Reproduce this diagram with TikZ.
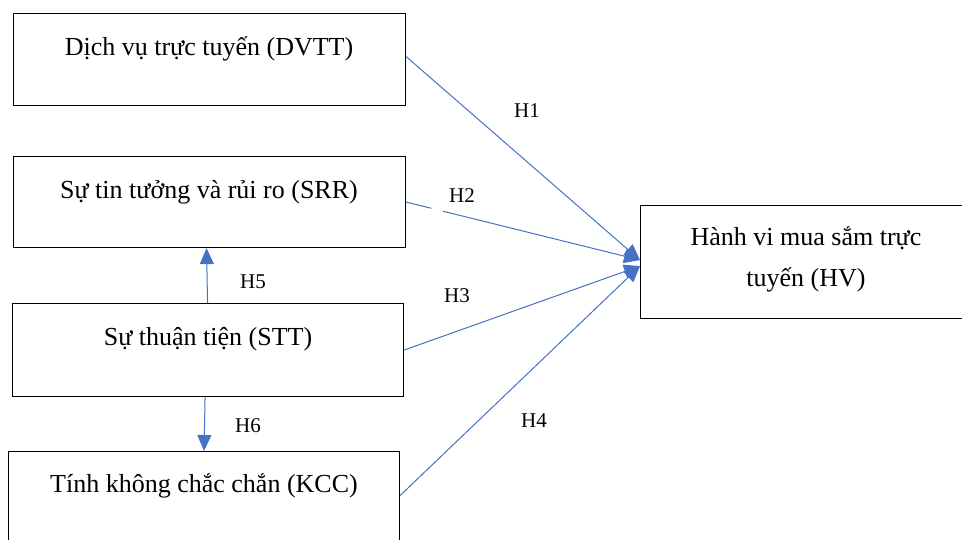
\documentclass[tikz,border=0pt]{standalone}
\usepackage{fontspec}
\setmainfont{Liberation Serif}
\usetikzlibrary{arrows.meta}
\definecolor{arr}{RGB}{68,114,196}
\begin{document}
\begin{tikzpicture}[x=1pt,y=-1pt,
  box/.style={draw=black, line width=1.1pt, inner sep=0pt, anchor=north west},
  txt/.style={font=\fontsize{26}{41}\selectfont, anchor=base, inner sep=0pt},
  lbl/.style={font=\fontsize{21}{25}\selectfont, anchor=base, inner sep=0pt},
  link/.style={draw=arr, line width=1pt, -{Triangle[length=16pt,width=14pt]}},
]
\useasboundingbox (0,0) rectangle (962,539);
% boxes
\node[box, minimum width=392pt, minimum height=92pt] (dvtt) at (13,13) {};
\node[box, minimum width=392pt, minimum height=91pt] (srr) at (13,156) {};
\node[box, minimum width=391pt, minimum height=93pt] (stt) at (12,303) {};
\node[box, minimum width=391pt, minimum height=92pt] (kcc) at (8,451) {};
\node[box, minimum width=325pt, minimum height=113pt] (hv) at (640,205) {};
% texts
\node[txt] (t1) at (209,55) {Dịch vụ trực tuyến (DVTT)};
\node[txt] (t2) at (209,198) {Sự tin tưởng và rủi ro (SRR)};
\node[txt] (t3) at (208,345) {Sự thuận tiện (STT)};
\node[txt] (t4) at (204,492) {Tính không chắc chắn (KCC)};
\node[txt] (t5a) at (806,245) {Hành vi mua sắm trực};
\node[txt] (t5b) at (806,286) {tuyến (HV)};
% connectors
\draw[link] ([yshift=3pt]dvtt.east) -- ([yshift=2pt]hv.west);
\draw[link, dash pattern=on 26pt off 12pt on 400pt] (srr.east) -- ([yshift=2pt]hv.west);
\draw[link] (stt.east) -- ([yshift=-4pt]hv.west);
\draw[link] ([yshift=2pt]kcc.east) -- ([yshift=-4pt]hv.west);
\draw[link] ([xshift=-0.5pt]stt.north) -- ([xshift=-3pt]srr.south);
\draw[link] ([xshift=-3pt]stt.south) -- (kcc.north);
% labels
\node[lbl] (h1) at (527,117) {H1};
\node[lbl] (h2) at (462,202) {H2};
\node[lbl] (h3) at (457,302) {H3};
\node[lbl] (h4) at (534,427) {H4};
\node[lbl] (h5) at (253,288) {H5};
\node[lbl] (h6) at (248,432) {H6};
\end{tikzpicture}
\end{document}
